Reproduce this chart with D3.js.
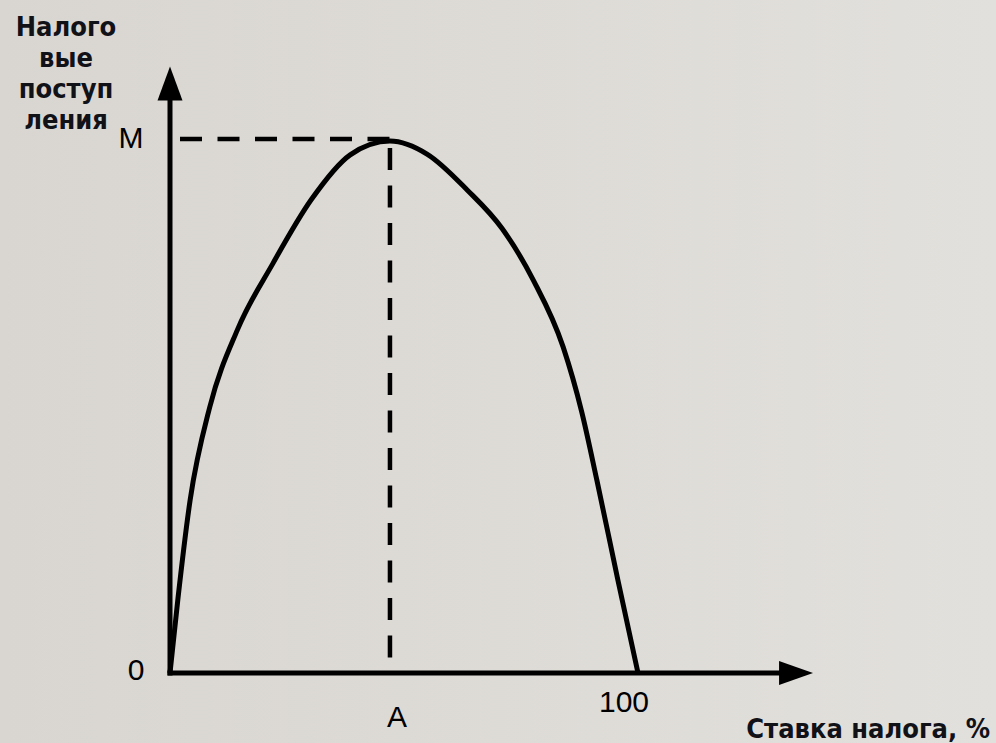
<!DOCTYPE html>
<html>
<head>
<meta charset="utf-8">
<script src="https://cdn.jsdelivr.net/npm/d3@7"></script>
<style>
  html, body { margin: 0; padding: 0; background: #dddad5; }
  svg { display: block; }
</style>
</head>
<body>
<div id="chart"></div>
<script>
// кривая Лаффера: ставка налога (%) -> налоговые поступления (M = 100)
const taxRate = [0, 1.7, 4.3, 8.5, 14.4, 22.0, 30.2, 38.5, 47.0, 55.0, 63.5, 71.0, 77.6, 84.0, 88.0, 91.2, 95.7, 100];
const revenue = [0, 14.0, 32.5, 50.0, 64.5, 77.0, 89.0, 97.4, 100, 97.5, 90.8, 83.5, 73.9, 61.3, 49.0, 36.3, 17.5, 0];

const peakRate = 47;      // точка A
const peakRevenue = 100;  // точка M
const axisEnd = { x: 137.4, y: 114 };

const yTitleLines = ['Налого', 'вые', 'поступ', 'ления'];
const xTitle = 'Ставка налога, %';
const xTickLabels = [{ v: peakRate, t: 'A' }, { v: 100, t: '100' }];
const yTickLabels = [{ v: 0, t: '0' }, { v: peakRevenue, t: 'M' }];

const width = 996, height = 743;

const x = d3.scaleLinear().domain([0, 100]).range([170, 638]);
const y = d3.scaleLinear().domain([0, 100]).range([673, 141]);

const svg = d3.select('#chart').append('svg')
  .attr('width', width)
  .attr('height', height);

// фон
const grad = svg.append('defs').append('linearGradient')
  .attr('id', 'bg').attr('x1', 0).attr('x2', 1).attr('y1', 0).attr('y2', 0);
grad.append('stop').attr('offset', '0%').attr('stop-color', '#d9d6d1');
grad.append('stop').attr('offset', '100%').attr('stop-color', '#e2e0dc');
svg.append('rect').attr('width', width).attr('height', height).attr('fill', 'url(#bg)');

// пунктирные линии к точкам M и A
const dash = svg.append('g')
  .attr('stroke', '#000')
  .attr('stroke-width', 4.5)
  .attr('stroke-dasharray', '22 15.5');
dash.append('line')
  .attr('x1', x(0) + 10).attr('x2', x(peakRate))
  .attr('y1', y(peakRevenue) - 2).attr('y2', y(peakRevenue) - 2);
dash.append('line')
  .attr('x1', x(peakRate)).attr('x2', x(peakRate))
  .attr('y1', y(peakRevenue) + 7).attr('y2', y(0));

// оси со стрелками
const axes = svg.append('g');
axes.append('line')
  .attr('x1', x(0)).attr('x2', x(0))
  .attr('y1', y(0) + 2.5).attr('y2', y(axisEnd.y) + 30)
  .attr('stroke', '#000').attr('stroke-width', 5);
axes.append('line')
  .attr('x1', x(0) - 2.5).attr('x2', x(axisEnd.x) - 30)
  .attr('y1', y(0)).attr('y2', y(0))
  .attr('stroke', '#000').attr('stroke-width', 5);
axes.append('path')
  .attr('d', `M${x(0)},${y(axisEnd.y)} L${x(0) + 12.5},${y(axisEnd.y) + 34} L${x(0) - 12.5},${y(axisEnd.y) + 34} Z`)
  .attr('fill', '#000');
axes.append('path')
  .attr('d', `M${x(axisEnd.x)},${y(0)} L${x(axisEnd.x) - 34},${y(0) - 12} L${x(axisEnd.x) - 34},${y(0) + 12} Z`)
  .attr('fill', '#000');

// кривая
const points = taxRate.map((r, i) => [r, revenue[i]]);
const line = d3.line()
  .x(d => x(d[0]))
  .y(d => y(d[1]))
  .curve(d3.curveMonotoneX);
svg.append('path')
  .datum(points)
  .attr('d', line)
  .attr('fill', 'none')
  .attr('stroke', '#000')
  .attr('stroke-width', 5)
  .attr('stroke-linejoin', 'round');

// подписи
const regularFont = '"Liberation Sans", Arial, sans-serif';
const boldFont = '"DejaVu Sans Condensed", "DejaVu Sans", sans-serif';

svg.selectAll('.xlab').data(xTickLabels).enter().append('text')
  .attr('class', 'xlab')
  .attr('x', d => x(d.v) + (d.t === 'A' ? 7 : -14))
  .attr('y', d => d.t === 'A' ? 727 : 712)
  .attr('text-anchor', 'middle')
  .attr('font-family', regularFont)
  .attr('font-size', 30)
  .attr('fill', '#000')
  .text(d => d.t);

svg.selectAll('.ylab').data(yTickLabels).enter().append('text')
  .attr('class', 'ylab')
  .attr('x', d => d.t === 'M' ? 131 : 136)
  .attr('y', d => y(d.v) + 7)
  .attr('text-anchor', 'middle')
  .attr('font-family', regularFont)
  .attr('font-size', 30)
  .attr('fill', '#000')
  .text(d => d.t);

svg.append('g').selectAll('text').data(yTitleLines).enter().append('text')
  .attr('x', 66)
  .attr('y', (d, i) => 36 + i * 31)
  .attr('text-anchor', 'middle')
  .attr('font-family', boldFont)
  .attr('font-weight', 'bold')
  .attr('font-size', 27)
  .attr('fill', '#111118')
  .text(d => d);

svg.append('text')
  .attr('x', 990)
  .attr('y', 738)
  .attr('text-anchor', 'end')
  .attr('font-family', boldFont)
  .attr('font-weight', 'bold')
  .attr('font-size', 27)
  .attr('fill', '#111118')
  .text(xTitle);
</script>
</body>
</html>
